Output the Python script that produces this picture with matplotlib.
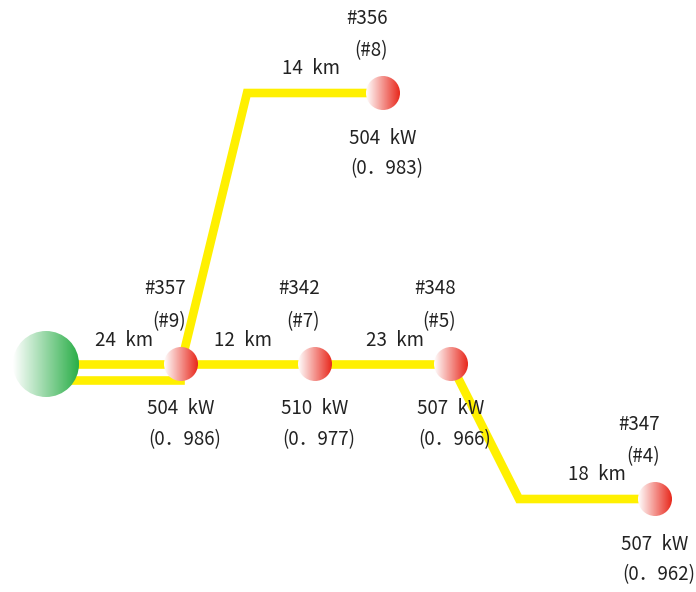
import numpy as np
import matplotlib.pyplot as plt
from matplotlib.patches import Circle
from matplotlib.colors import LinearSegmentedColormap

plt.rcParams['font.family'] = ['Noto Sans CJK JP', 'DejaVu Sans']

# layout in pixel units (y grows downward)
source = (46, 364)
node_ids = ['#357', '#342', '#348', '#356', '#347']
node_nums = ['(#9)', '(#7)', '(#5)', '(#8)', '(#4)']
node_x = [181, 315, 451, 383, 655]
node_y = [364, 364, 364, 93, 499]
power = ['504\u2002kW', '510\u2002kW', '507\u2002kW', '504\u2002kW', '507\u2002kW']
ratio = ['(0\uff0e986)', '(0\uff0e977)', '(0\uff0e966)', '(0\uff0e983)', '(0\uff0e962)']

# cable paths (polylines)
paths = [
    ([46, 181], [364, 364]),
    ([46, 180, 180], [380, 380, 364]),
    ([181, 315, 451], [364, 364, 364]),
    ([181, 247, 383], [364, 93, 93]),
    ([451, 519, 655], [364, 499, 499]),
]
dist = ['24\u2002km', '12\u2002km', '23\u2002km', '14\u2002km', '18\u2002km']
dist_x = [124, 243, 395, 311, 597]
dist_y = [340, 340, 340, 69, 475]

fig = plt.figure(figsize=(6.96, 5.92), dpi=100)
ax = fig.add_axes([0, 0, 1, 1])
ax.axis('off')

for xs, ys in paths:
    ax.plot(xs, ys, color='#fff000', lw=6.2, solid_capstyle='butt',
            solid_joinstyle='miter', zorder=1)


def grad_circle(cx, cy, r, color):
    cmap = LinearSegmentedColormap.from_list('g', ['#ffffff', color])
    grad = np.linspace(0, 1, 256).reshape(1, -1)
    im = ax.imshow(grad, cmap=cmap, extent=[cx - r, cx + r, cy + r, cy - r],
                   zorder=3, interpolation='bilinear')
    clip = Circle((cx, cy), r, transform=ax.transData)
    im.set_clip_path(clip)


grad_circle(source[0], source[1], 33, '#2aae48')
for x, y in zip(node_x, node_y):
    grad_circle(x, y, 17, '#e8281c')

ax.set_xlim(0, 696)
ax.set_ylim(592, 0)
ax.set_aspect('auto')

fs = 13.5
tc = '#222222'
for t, x, y in zip(dist, dist_x, dist_y):
    ax.text(x, y, t, ha='center', va='center', fontsize=fs, color=tc, zorder=4)
for i in range(len(node_ids)):
    x, y = node_x[i], node_y[i]
    ax.text(x - 16, y - 75, node_ids[i], ha='center', va='center', fontsize=fs, color=tc, zorder=4)
    ax.text(x - 12, y - 42, node_nums[i], ha='center', va='center', fontsize=fs, color=tc, zorder=4)
    ax.text(x, y + 45, power[i], ha='center', va='center', fontsize=fs, color=tc, zorder=4)
    ax.text(x + 4, y + 76, ratio[i], ha='center', va='center', fontsize=fs, color=tc, zorder=4)

fig.savefig('out.png', dpi=100)
